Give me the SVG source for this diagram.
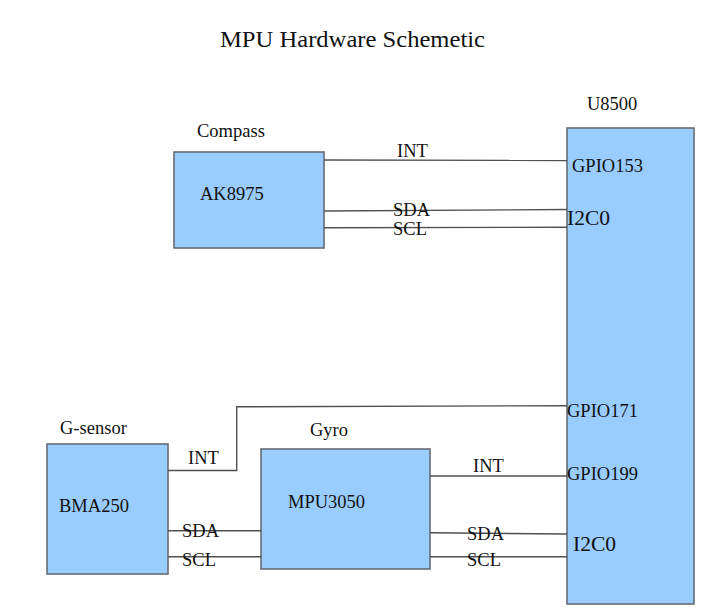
<svg xmlns="http://www.w3.org/2000/svg" width="709" height="615" viewBox="0 0 709 615">
<style>
.box{fill:#99ccff;stroke:#666b73;stroke-width:1.6}
.t{font-family:"Liberation Serif","Times New Roman",serif;font-size:18.5px;fill:#111}
.big{font-size:21.5px}
.title{font-size:24px}
.w{fill:none;stroke:#505050;stroke-width:1.4}
</style>
<rect width="709" height="615" fill="#fff"/>
<text class="t title" x="220" y="47" textLength="265" lengthAdjust="spacingAndGlyphs">MPU Hardware Schemetic</text>
<g id="u8500">
<rect class="box" x="567" y="128" width="127" height="476"/>
<text class="t" x="587" y="110">U8500</text>
<text class="t" x="572" y="172">GPIO153</text>
<text class="t big" x="567" y="225">I2C0</text>
<text class="t" x="567" y="417">GPIO171</text>
<text class="t" x="567" y="480">GPIO199</text>
<text class="t big" x="573" y="551">I2C0</text>
</g>
<g id="compass">
<rect class="box" x="174" y="152" width="150" height="96"/>
<text class="t" x="197" y="137">Compass</text>
<text class="t" x="200" y="200">AK8975</text>
</g>
<g id="gsensor">
<rect class="box" x="47" y="444" width="121" height="130"/>
<text class="t" x="60" y="434">G-sensor</text>
<text class="t" x="59" y="512">BMA250</text>
</g>
<g id="gyro">
<rect class="box" x="261" y="449" width="169" height="120"/>
<text class="t" x="310" y="436">Gyro</text>
<text class="t" x="288" y="508">MPU3050</text>
</g>
<g id="connectors">
<path class="w" d="M324 160 L567 160.5"/>
<path class="w" d="M324 211 L567 209.5"/>
<path class="w" d="M324 227.7 L567 227.3"/>
<path class="w" d="M168 470.5 L236.7 470.5 L236.7 406.8 L567 405.7"/>
<path class="w" d="M168 530.7 L261 530.7"/>
<path class="w" d="M168 556.7 L261 556.7"/>
<path class="w" d="M430 476 L567 476"/>
<path class="w" d="M430 532.7 L567 534"/>
<path class="w" d="M430 556.7 L567 556.7"/>
<text class="t" x="397" y="157">INT</text>
<text class="t" x="393" y="215.5">SDA</text>
<text class="t" x="393" y="234.5">SCL</text>
<text class="t" x="188" y="464">INT</text>
<text class="t" x="182" y="537">SDA</text>
<text class="t" x="182" y="566">SCL</text>
<text class="t" x="473" y="472">INT</text>
<text class="t" x="467" y="540">SDA</text>
<text class="t" x="467" y="566">SCL</text>
</g>
</svg>
